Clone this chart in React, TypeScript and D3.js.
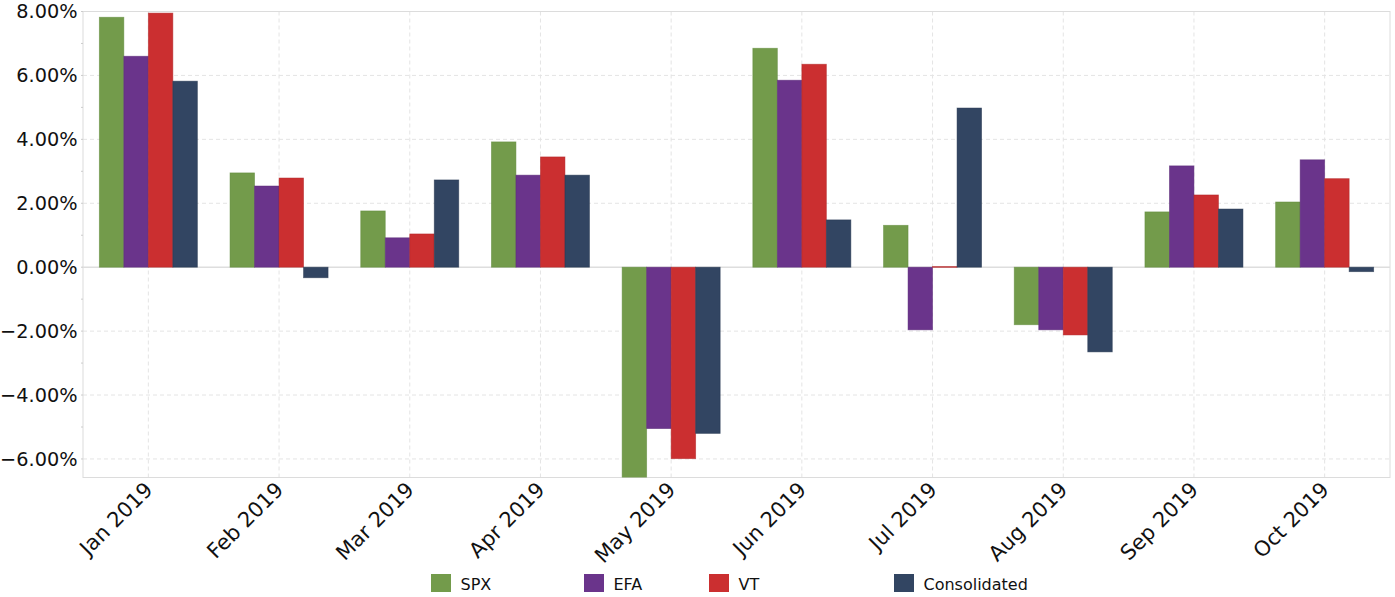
import React from "react";
import * as d3 from "d3";

const categories = ["Jan 2019", "Feb 2019", "Mar 2019", "Apr 2019", "May 2019", "Jun 2019", "Jul 2019", "Aug 2019", "Sep 2019", "Oct 2019"];
const seriesNames = ["SPX", "EFA", "VT", "Consolidated"];
const spx = [7.82, 2.95, 1.76, 3.92, -6.58, 6.85, 1.31, -1.8, 1.73, 2.04];
const efa = [6.6, 2.54, 0.92, 2.88, -5.05, 5.85, -1.96, -1.96, 3.17, 3.36];
const vt = [7.95, 2.79, 1.04, 3.45, -5.99, 6.35, 0.02, -2.12, 2.26, 2.77];
const consolidated = [5.82, -0.33, 2.73, 2.88, -5.2, 1.48, 4.98, -2.65, 1.82, -0.14];
const yTicks = [-6, -4, -2, 0, 2, 4, 6, 8];
const yMinorTicks = [-5, -3, -1, 1, 3, 5, 7];

const colors = ["#739b4b", "#6a348b", "#cb2f30", "#324562"];
const strokes = ["#5f8a3a", "#5a2a78", "#b02426", "#25354f"];
const legendX = [431, 584, 709, 894];

const W = 1395, H = 597;
const left = 83, right = 1390, top = 11.5, bottom = 477.5;

export default function App() {
  const allSeries = [spx, efa, vt, consolidated];
  const x = d3.scaleBand<string>().domain(categories).range([left, right]).paddingInner(0.25).paddingOuter(0.125);
  const xs = d3.scaleBand<string>().domain(seriesNames).range([0, x.bandwidth()]);
  const y = d3.scaleLinear().domain([-6.58, 8]).range([bottom, top]);
  const font = "'DejaVu Sans', sans-serif";
  return (
    <svg width={W} height={H} style={{ position: "absolute", left: 0, top: 0, background: "#fff" }}>
      <defs>
        <clipPath id="plot">
          <rect x={left} y={top} width={right - left} height={bottom - top} />
        </clipPath>
      </defs>
      {yTicks.filter(t => t !== 0 && t !== 8).map(t => (
        <line key={"h" + t} x1={left} x2={right} y1={y(t)} y2={y(t)} stroke="#e4e4e4" strokeDasharray="4,3" />
      ))}
      {categories.map(c => {
        const cx = (x(c) as number) + x.bandwidth() / 2;
        return <line key={"v" + c} x1={cx} x2={cx} y1={top} y2={bottom} stroke="#e4e4e4" strokeDasharray="4,3" />;
      })}
      <rect x={left} y={top} width={right - left} height={bottom - top} fill="none" stroke="#dcdcdc" />
      <line x1={left} x2={right} y1={y(0)} y2={y(0)} stroke="#dedede" strokeWidth={1.5} />
      <g clipPath="url(#plot)">
        {categories.map((c, i) => (
          <g key={c} transform={`translate(${x(c)},0)`}>
            {allSeries.map((s, j) => {
              const v = s[i];
              const y0 = y(Math.max(0, v));
              const h = Math.abs(y(v) - y(0));
              return (
                <rect key={j} x={xs(seriesNames[j])} y={y0} width={xs.bandwidth()} height={Math.max(h, 0.8)}
                  fill={colors[j]} stroke={strokes[j]} strokeWidth={0.8} strokeOpacity={0.6} />
              );
            })}
          </g>
        ))}
      </g>
      {yTicks.map(t => (
        <text key={"yl" + t} x={77.5} y={y(t)} dy="0.36em" textAnchor="end" fontFamily={font} fontSize={19.3} fill="#111">
          {d3.format(".2f")(t) + "%"}
        </text>
      ))}
      {yTicks.concat(yMinorTicks).map(t => (
        <line key={"yt" + t} x1={left - 2} x2={left} y1={y(t)} y2={y(t)} stroke="#ccc" />
      ))}
      {categories.map(c => {
        const cx = (x(c) as number) + x.bandwidth() / 2;
        return (
          <text key={"xl" + c} transform={`translate(${cx - 5},${bottom + 3}) rotate(-45)`} textAnchor="end" dy="0.71em"
            fontFamily={font} fontSize={21} fill="#111">{c}</text>
        );
      })}
      {seriesNames.map((n, j) => {
        const lx = legendX[j];
        return (
          <g key={n}>
            <rect x={lx} y={574} width={20} height={18} fill={colors[j]} />
            <text x={lx + 29.5} y={590} fontFamily={font} fontSize={16} fill="#111">{n}</text>
          </g>
        );
      })}
    </svg>
  );
}
